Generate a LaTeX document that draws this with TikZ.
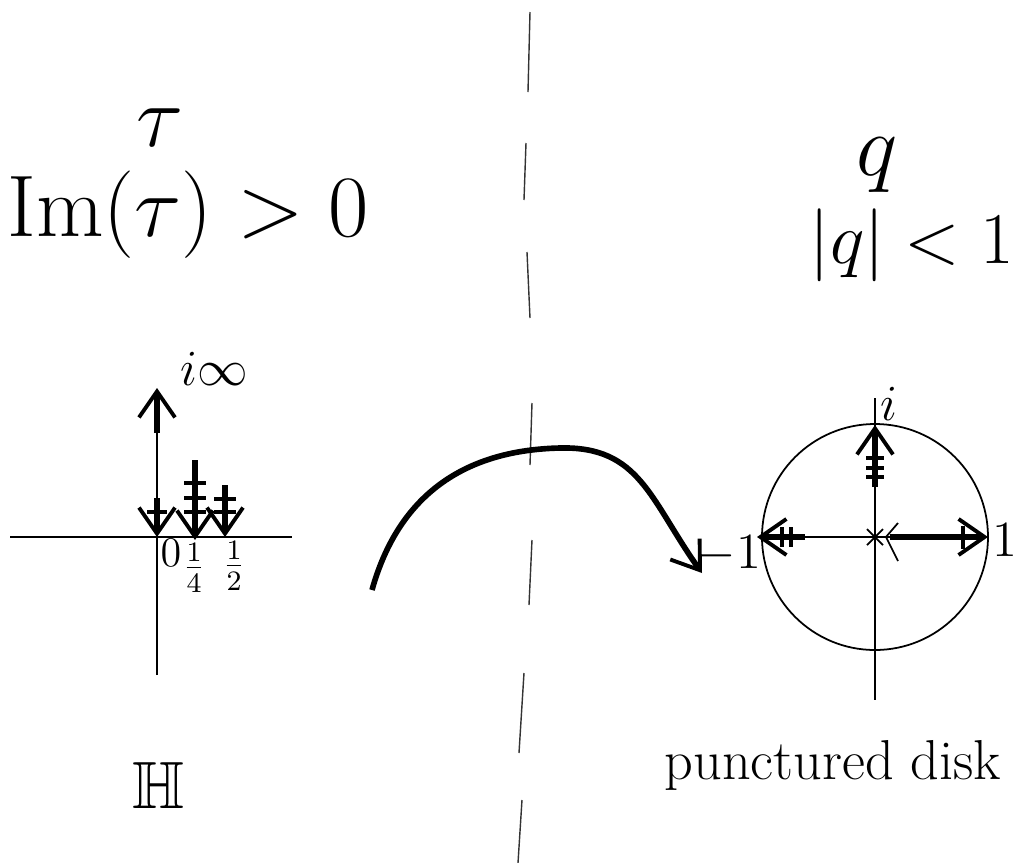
\documentclass[tikz,border=0pt]{standalone}
\usepackage{amsmath,amssymb}
\usetikzlibrary{arrows.meta}

\begin{document}
\begin{tikzpicture}[
    x=0.01cm,
    y=-0.01cm,
    >={Straight Barb[length=2.6mm,width=3.6mm,line width=1.1pt]},
    axis/.style={line width=0.5pt},
    flow/.style={->, line width=1.7pt},
    tickmark/.style={line width=1.1pt},
    fold/.style={line width=0.4pt, black!80},
    bigtext/.style={font=\fontsize{34}{38}\selectfont},
    condtext/.style={font=\fontsize{20}{24}\selectfont},
    lab/.style={font=\fontsize{15}{18}\selectfont},
    smalllab/.style={font=\fontsize{12}{14}\selectfont},
  ]
  \useasboundingbox (0,0) rectangle (1017,863);

  % === Dividing line (broken) ===
  \foreach \xa/\ya/\xb/\yb in {530/12/528/92, 526/143/524/200, 527/252/530/318,
                               532/403/530/465, 532/540/529/605, 524/673/519/753,
                               522/800/518/863} {
    \draw[fold] (\xa,\ya) -- (\xb,\yb);
  }

  % === Upper half plane (left) ===
  \node[bigtext] (tau) at (160,128) {$\tau$};
  \node[condtext, font=\fontsize{23}{27}\selectfont] (imcond) at (188,215) {$\mathrm{Im}(\tau)>0$};

  \coordinate (O) at (157,537);
  \coordinate (xl) at (10,537);
  \coordinate (xr) at (292,537);
  \coordinate (yb) at (157,675);
  \coordinate (yt) at (157,433);
  \coordinate (ytop) at (157,388);
  \draw[axis] (xl) -- (xr);
  \draw[axis] (yb) -- (yt);
  \draw[flow] (yt) -- (ytop);
  \node[lab, anchor=south west] (iinf) at (168,398) {$i\infty$};

  % arrows into the cusps
  \coordinate (z0a) at (157,498);
  \coordinate (qa) at (195,460);
  \coordinate (qb) at (195,540);
  \coordinate (ha) at (225,485);
  \coordinate (hb) at (225,537);
  \draw[flow] (z0a) -- (O);
  \draw[flow] (qa) -- (qb);
  \draw[flow] (ha) -- (hb);
  \draw[tickmark] (147,512) -- (167,512);
  \foreach \t in {483,498,512} { \draw[tickmark] (184,\t) -- (206,\t); }
  \foreach \t in {499,512} { \draw[tickmark] (214,\t) -- (236,\t); }

  \node[smalllab] (lab0) at (171,553) {$0$};
  \node[smalllab] (lab14) at (194,568) {$\frac{1}{4}$};
  \node[smalllab] (lab12) at (234,566) {$\frac{1}{2}$};

  \node[font=\fontsize{19}{22}\selectfont] (halfplane) at (158,785) {$\mathbb{H}$};

  % === Map tau -> q ===
  \coordinate (mapstart) at (372,590);
  \coordinate (mapmid) at (560,448);
  \coordinate (mapend) at (702,573);
  \draw[line width=1.6pt, ->] (mapstart) .. controls (400,490) and (470,450) .. (mapmid)
    .. controls (640,446) and (650,500) .. (mapend);

  % === Punctured disk (right) ===
  \node[bigtext] (qlab) at (877,165) {$q$};
  \node[condtext] (qcond) at (912,245) {$|q|<1$};

  \coordinate (C) at (875,537);
  \draw[axis] (C) circle[radius=113];
  \coordinate (vt) at (875,398);
  \coordinate (vb) at (875,700);
  \coordinate (hl) at (805,537);
  \coordinate (hr) at (890,537);
  \draw[axis] (vt) -- (vb);
  \draw[axis] (hl) -- (hr);

  % cusp images
  \coordinate (ia) at (875,487);
  \coordinate (ib) at (875,425);
  \coordinate (ma) at (805,537);
  \coordinate (mb) at (757,537);
  \coordinate (pa) at (890,537);
  \coordinate (pb) at (988,537);
  \draw[flow] (ia) -- (ib);
  \draw[flow] (ma) -- (mb);
  \draw[flow] (pa) -- (pb);
  \foreach \t in {458,468,477} { \draw[tickmark] (866,\t) -- (884,\t); }
  \foreach \t in {782,791} { \draw[tickmark] (\t,527) -- (\t,547); }
  \draw[tickmark] (963,526) -- (963,549);
  % puncture
  \draw[axis] (867,529) -- (883,545);
  \draw[axis] (867,545) -- (883,529);
  \draw[axis] (898,523) -- (886,537) -- (898,561);

  \node[lab] (ilab) at (889,404) {$i$};
  \node[lab] (m1lab) at (729,554) {$-1$};
  \node[lab] (p1lab) at (1005,540) {$1$};

  \node[font=\fontsize{16}{19}\selectfont] (disk) at (833,765) {punctured disk};

\end{tikzpicture}
\end{document}
